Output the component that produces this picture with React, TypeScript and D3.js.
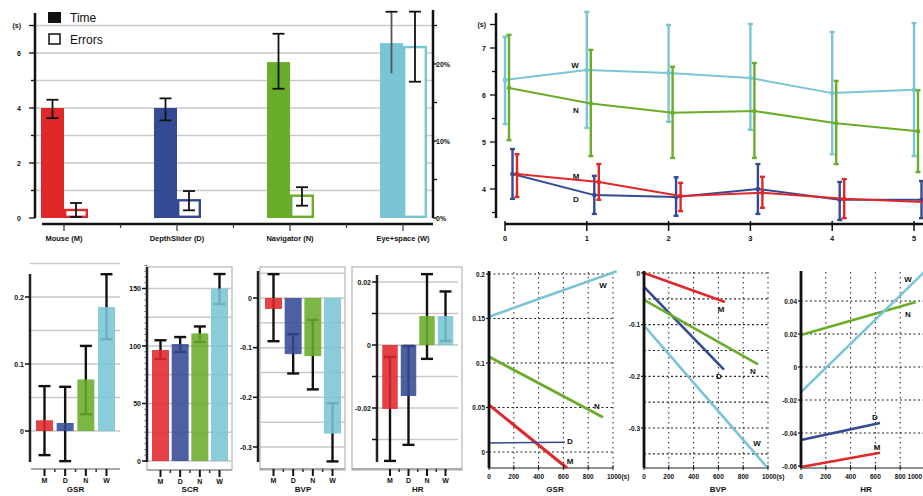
import React from "react";
import * as d3 from "d3";

// ---------- DATA ----------
const timeCats = ["Mouse (M)", "DepthSlider (D)", "Navigator (N)", "Eye+space (W)"];
const timeMean = [4.0, 4.0, 5.67, 6.36];
const timeLo = [3.63, 3.55, 4.7, 5.26];
const timeHi = [4.3, 4.35, 6.7, 7.5];
const errMean = [0.0104, 0.023, 0.029, 0.222];
const errLo = [0.0013, 0.01, 0.016, 0.177];
const errHi = [0.0195, 0.035, 0.04, 0.268];

const trials = [0, 1, 2, 3, 4, 5];
const trialW = [6.32, 6.53, 6.47, 6.36, 6.04, 6.11];
const trialWLo = [5.38, 5.3, 5.43, 5.26, 4.74, 4.7];
const trialWHi = [7.24, 7.77, 7.49, 7.51, 7.34, 7.53];
const trialN = [6.15, 5.82, 5.62, 5.66, 5.4, 5.23];
const trialNLo = [5.04, 4.7, 4.66, 4.66, 4.53, 4.36];
const trialNHi = [7.28, 6.96, 6.6, 6.68, 6.3, 6.1];
const trialM = [4.32, 4.15, 3.85, 3.92, 3.79, 3.72];
const trialMLo = [3.83, 3.77, 3.53, 3.6, 3.38, 3.4];
const trialMHi = [4.74, 4.53, 4.13, 4.26, 4.21, 4.2];
const trialD = [4.32, 3.87, 3.83, 4.0, 3.77, 3.77];
const trialDLo = [3.79, 3.47, 3.43, 3.47, 3.34, 3.38];
const trialDHi = [4.85, 4.28, 4.25, 4.53, 4.15, 4.17];

const cats = ["M", "D", "N", "W"];
const gsrMean = [0.016, 0.012, 0.077, 0.185];
const gsrLo = [-0.036, -0.045, 0.025, 0.137];
const gsrHi = [0.067, 0.066, 0.127, 0.234];
const scrMean = [96.5, 101.7, 111, 150];
const scrLo = [88.7, 94.8, 103.5, 136.5];
const scrHi = [105, 107.8, 117, 162.6];
const bvpMean = [-0.022, -0.113, -0.117, -0.273];
const bvpLo = [-0.087, -0.152, -0.184, -0.329];
const bvpHi = [0.048, -0.073, -0.044, -0.212];
const hrMean = [-0.0203, -0.0162, 0.0092, 0.0092];
const hrLo = [-0.0368, -0.0317, -0.0044, 0.0013];
const hrHi = [-0.0038, -0.0003, 0.0225, 0.017];

// regression fits over time (s), order M, D, N, W
const gsrFitStart = [0.053, 0.0101, 0.107, 0.152];
const gsrFitEnd = [-0.018, 0.011, 0.039, 0.203];
const gsrFitEndT = [629, 613, 919, 1030];
const bvpFitStart = [0, -0.027, -0.052, -0.102];
const bvpFitEnd = [-0.056, -0.187, -0.177, -0.376];
const bvpFitEndT = [653, 645, 920, 992];
const hrFitStart = [-0.0606, -0.0442, 0.0194, -0.0152];
const hrFitEnd = [-0.052, -0.034, 0.0394, 0.058];
const hrFitEndT = [637, 637, 927, 1000];

const timeTickLabels = ["0", "200", "400", "600", "800", "1000(s)"];

// ---------- STYLE ----------
const FONT = "'Liberation Sans', Arial, sans-serif";
const COLORS = ["#e0282b", "#344a94", "#6aad2b", "#7ac5d5"];
const GRID = "#c9c9c9";

function TopLeft() {
  const y = d3.scaleLinear().domain([0, 7]).range([218, 25.5]);
  const yE = d3.scaleLinear().domain([0, 0.25]).range([218, 25.5]);
  const x = d3.scalePoint().domain(timeCats).range([64, 403]);
  const yLabels: Record<number, string> = { 0: "0", 2: "2", 4: "4", 6: "6", 7: "(s)" };
  const pct: Record<number, string> = { 0: "0%", 0.1: "10%", 0.2: "20%" };
  const step = x.step();
  return (
    <g fontFamily={FONT}>
      {d3.range(1, 8).map((v) => (
        <line key={v} x1={32} x2={433} y1={y(v)} y2={y(v)} stroke={GRID} strokeWidth={1.5} />
      ))}
      {timeCats.map((c, i) => {
        const cx = x(c)!;
        return (
          <g key={c}>
            <rect x={cx - 23} y={y(timeMean[i])} width={23} height={y(0) - y(timeMean[i])} fill={COLORS[i]} />
            <rect x={cx + 1.2} y={yE(errMean[i])} width={21.6} height={yE(0) - yE(errMean[i]) - 1.2} fill="#fff" stroke={COLORS[i]} strokeWidth={2.4} />
          </g>
        );
      })}
      {timeCats.map((c, i) => {
        const cx = x(c)!;
        const tx = cx - 11.5;
        const ex = cx + 12;
        const tcol = i === 3 ? "#555" : "#111";
        return (
          <g key={c} stroke="#111">
            <line x1={tx} x2={tx} y1={y(timeHi[i])} y2={y(timeLo[i])} strokeWidth={1.8} stroke={tcol} />
            <line x1={tx - 6} x2={tx + 6} y1={y(timeHi[i])} y2={y(timeHi[i])} strokeWidth={1.8} />
            {i < 3 && <line x1={tx - 6} x2={tx + 6} y1={y(timeLo[i])} y2={y(timeLo[i])} strokeWidth={1.8} />}
            <line x1={ex} x2={ex} y1={yE(errHi[i])} y2={yE(errLo[i])} strokeWidth={1.8} />
            <line x1={ex - 6} x2={ex + 6} y1={yE(errHi[i])} y2={yE(errHi[i])} strokeWidth={1.8} />
            <line x1={ex - 6} x2={ex + 6} y1={yE(errLo[i])} y2={yE(errLo[i])} strokeWidth={1.8} />
          </g>
        );
      })}
      {/* left axis */}
      <line x1={35} x2={35} y1={13} y2={218} stroke="#111" strokeWidth={2.5} />
      {d3.range(0, 8).map((v) => (
        <g key={v}>
          <line x1={v % 2 === 0 || v === 7 ? 29 : 31} x2={35} y1={y(v)} y2={y(v)} stroke="#111" strokeWidth={1.3} />
          {yLabels[v] !== undefined && (
            <text x={21} y={y(v) + 2.5} fontSize={7} fontWeight="bold" textAnchor="end" fill="#111">
              {yLabels[v]}
            </text>
          )}
        </g>
      ))}
      {/* right axis */}
      <line x1={433} x2={433} y1={10} y2={218} stroke="#111" strokeWidth={2.5} />
      {d3.range(0, 0.26, 0.05).map((v) => {
        const k = Math.round(v * 100) / 100;
        return (
          <g key={k}>
            <line x1={433} x2={437} y1={yE(k)} y2={yE(k)} stroke="#111" strokeWidth={1.3} />
            {pct[k] && (
              <text x={436} y={yE(k) + 2.5} fontSize={7} fontWeight="bold" fill="#111">
                {pct[k]}
              </text>
            )}
          </g>
        );
      })}
      {/* x axis */}
      <line x1={42} x2={433} y1={224} y2={224} stroke="#111" strokeWidth={2.5} />
      {timeCats.map((c, i) => (
        <g key={c}>
          <line x1={x(c)!} x2={x(c)!} y1={224} y2={231} stroke="#333" strokeWidth={1.2} />
          {i < 3 && <line x1={x(c)! + step / 2} x2={x(c)! + step / 2} y1={224} y2={228} stroke="#333" strokeWidth={1.2} />}
          <text x={x(c)!} y={241} fontSize={7.5} fontWeight="bold" textAnchor="middle" fill="#111">
            {c}
          </text>
        </g>
      ))}
      {/* legend */}
      <rect x={48} y={12} width={13} height={11} fill="#111" />
      <text x={70} y={21.5} fontSize={12} fill="#111">Time</text>
      <rect x={49} y={34} width={11} height={10} fill="#fff" stroke="#111" strokeWidth={1.5} />
      <text x={70} y={43.5} fontSize={12} fill="#111">Errors</text>
    </g>
  );
}

function TopRight() {
  const y = d3.scaleLinear().domain([4, 7]).range([189, 48]);
  const x = d3.scaleLinear().domain([0, 5]).range([505, 914]);
  const series = [
    { name: "W", m: trialW, lo: trialWLo, hi: trialWHi, c: COLORS[3], off: 0 },
    { name: "N", m: trialN, lo: trialNLo, hi: trialNHi, c: COLORS[2], off: 4 },
    { name: "D", m: trialD, lo: trialDLo, hi: trialDHi, c: COLORS[1], off: 7.5 },
    { name: "M", m: trialM, lo: trialMLo, hi: trialMHi, c: COLORS[0], off: 12 },
  ];
  const yLab: Record<string, string> = { "4": "4", "5": "5", "6": "6", "7": "7", "7.5": "(s)" };
  const lbl: Record<string, [number, number]> = { W: [575, 68], N: [576, 113], M: [576, 179], D: [576, 202] };
  return (
    <g fontFamily={FONT}>
      {series.map((s) => {
        const line = d3
          .line<number>()
          .x((_, i) => x(trials[i]) + s.off)
          .y((d) => y(d));
        return (
          <g key={s.name}>
            <path d={line(s.m) || ""} fill="none" stroke={s.c} strokeWidth={2} />
            {s.m.map((v, i) => {
              const px = x(trials[i]) + s.off;
              return (
                <g key={i} stroke={s.c} strokeWidth={2.4}>
                  <line x1={px} x2={px} y1={y(s.hi[i])} y2={y(s.lo[i])} />
                  <line x1={px - 2.5} x2={px + 2.5} y1={y(s.hi[i])} y2={y(s.hi[i])} />
                  <line x1={px - 2.5} x2={px + 2.5} y1={y(s.lo[i])} y2={y(s.lo[i])} />
                  <circle cx={px} cy={y(v)} r={2.3} fill={s.c} stroke="none" />
                </g>
              );
            })}
          </g>
        );
      })}
      {series.map((s) => (
        <text key={s.name} x={lbl[s.name][0]} y={lbl[s.name][1]} fontSize={8} fontWeight="bold" textAnchor="middle" fill="#111">
          {s.name}
        </text>
      ))}
      <line x1={496} x2={496} y1={13} y2={218} stroke="#111" strokeWidth={2.5} />
      {d3.range(3.5, 7.6, 0.5).map((v) => (
        <g key={v}>
          <line x1={yLab[String(v)] ? 490 : 492} x2={496} y1={y(v)} y2={y(v)} stroke="#111" strokeWidth={1.3} />
          {yLab[String(v)] && (
            <text x={486} y={y(v) + 2.5} fontSize={7} fontWeight="bold" textAnchor="end" fill="#111">
              {yLab[String(v)]}
            </text>
          )}
        </g>
      ))}
      <line x1={505} x2={923} y1={224} y2={224} stroke="#111" strokeWidth={2.5} />
      {trials.map((t) => (
        <g key={t}>
          <line x1={x(t)} x2={x(t)} y1={221} y2={231} stroke="#111" strokeWidth={1.5} />
          <text x={x(t)} y={241} fontSize={7.5} fontWeight="bold" textAnchor="middle" fill="#111">
            {t}
          </text>
        </g>
      ))}
    </g>
  );
}

type BarProps = {
  mean: number[];
  lo: number[];
  hi: number[];
  domain: [number, number];
  range: [number, number];
  axisX: number;
  axisY: [number, number];
  centers: [number, number];
  barW: number;
  grid: number[];
  gridX: [number, number];
  ticks: number[];
  tickLabels: string[];
  frame?: [number, number, number, number];
  xAxis: [number, number, number];
  title: string;
  denseTicks?: number[];
};

function BarPanel(p: BarProps) {
  const y = d3.scaleLinear().domain(p.domain).range(p.range);
  const x = d3.scalePoint().domain(cats).range(p.centers);
  const step = x.step();
  const [ax0, ax1, axY] = p.xAxis;
  const mid = (p.centers[0] + p.centers[1]) / 2;
  return (
    <g fontFamily={FONT}>
      {p.frame && (
        <rect x={p.frame[0]} y={p.frame[1]} width={p.frame[2] - p.frame[0]} height={p.frame[3] - p.frame[1]} fill="#fff" stroke="#c4c4c4" strokeWidth={1.5} />
      )}
      {p.grid.map((v, i) => (
        <line key={i} x1={p.gridX[0]} x2={p.gridX[1]} y1={y(v)} y2={y(v)} stroke={GRID} strokeWidth={1.5} />
      ))}
      {cats.map((c, i) => {
        const cx = x(c)!;
        return (
          <g key={c}>
            <g stroke="#111" strokeWidth={2.4}>
              <line x1={cx} x2={cx} y1={y(p.hi[i])} y2={y(p.lo[i])} />
              <line x1={cx - 6} x2={cx + 6} y1={y(p.hi[i])} y2={y(p.hi[i])} />
              <line x1={cx - 6} x2={cx + 6} y1={y(p.lo[i])} y2={y(p.lo[i])} />
            </g>
            <rect
              x={cx - p.barW / 2}
              y={Math.min(y(0), y(p.mean[i]))}
              width={p.barW}
              height={Math.abs(y(p.mean[i]) - y(0))}
              fill={COLORS[i]}
              fillOpacity={0.88}
            />
          </g>
        );
      })}
      <line x1={p.axisX} x2={p.axisX} y1={p.axisY[0]} y2={p.axisY[1]} stroke="#222" strokeWidth={2.5} />
      {p.denseTicks &&
        p.denseTicks.map((v, i) => (
          <line key={i} x1={p.axisX - 2.5} x2={p.axisX} y1={y(v)} y2={y(v)} stroke="#333" strokeWidth={0.8} />
        ))}
      {p.ticks.map((v, i) => (
        <g key={i}>
          <line x1={p.axisX - 5} x2={p.axisX} y1={y(v)} y2={y(v)} stroke="#111" strokeWidth={1.5} />
          {p.tickLabels[i] && (
            <text x={p.axisX - 6} y={y(v) + 2.5} fontSize={7} fontWeight="bold" textAnchor="end" fill="#111">
              {p.tickLabels[i]}
            </text>
          )}
        </g>
      ))}
      <line x1={ax0} x2={ax1} y1={axY} y2={axY} stroke="#aaa" strokeWidth={2} />
      {cats.map((c, i) => (
        <g key={c}>
          <line x1={x(c)!} x2={x(c)!} y1={axY} y2={axY + 7} stroke="#111" strokeWidth={2} />
          {i < 3 && <line x1={x(c)! + step / 2} x2={x(c)! + step / 2} y1={axY} y2={axY + 3} stroke="#333" strokeWidth={1.5} />}
          <text x={x(c)!} y={axY + 14} fontSize={7} fontWeight="bold" textAnchor="middle" fill="#111">
            {c}
          </text>
        </g>
      ))}
      <text x={mid} y={492} fontSize={8} fontWeight="bold" textAnchor="middle" fill="#111">
        {p.title}
      </text>
    </g>
  );
}

type LineProps = {
  x0: number;
  yDomain: [number, number];
  yRange: [number, number];
  hGrid: number[];
  yTicks: number[];
  yTickLabels: string[];
  start: number[];
  end: number[];
  endT: number[];
  widths: number[];
  labels: [number, number][];
  title: string;
  titleX: number;
  xLabels: string[];
};

function LinePanel(p: LineProps) {
  const y = d3.scaleLinear().domain(p.yDomain).range(p.yRange);
  const x = d3.scaleLinear().domain([0, 1000]).range([p.x0, p.x0 + 124]);
  const xt = [0, 200, 400, 600, 800, 1000];
  const line = d3
    .line<[number, number]>()
    .x((d) => x(d[0]))
    .y((d) => y(d[1]));
  return (
    <g fontFamily={FONT}>
      {p.hGrid.map((v, i) => (
        <line key={i} x1={p.x0} x2={x(1000)} y1={y(v)} y2={y(v)} stroke="#222" strokeWidth={1.2} strokeDasharray="2,2.5" />
      ))}
      {xt.slice(1).map((t) => (
        <line key={t} x1={x(t)} x2={x(t)} y1={272} y2={468} stroke="#222" strokeWidth={1} strokeDasharray="1.5,3.5" />
      ))}
      <line x1={p.x0} x2={x(1000)} y1={468} y2={468} stroke="#222" strokeWidth={1.2} />
      {cats.map((c, i) => (
        <path
          key={c}
          d={line([[0, p.start[i]], [p.endT[i], p.end[i]]]) || ""}
          stroke={COLORS[i]}
          strokeWidth={p.widths[i]}
          fill="none"
        />
      ))}
      {cats.map((c, i) => (
        <text key={c} x={p.labels[i][0]} y={p.labels[i][1]} fontSize={8} fontWeight="bold" textAnchor="middle" fill="#111">
          {c}
        </text>
      ))}
      <line x1={p.x0} x2={p.x0} y1={271} y2={468} stroke="#111" strokeWidth={2.8} />
      {p.yTicks.map((v, i) => (
        <g key={i}>
          <line x1={p.x0 - 3} x2={p.x0} y1={y(v)} y2={y(v)} stroke="#111" strokeWidth={1.2} />
          <text x={p.x0 - 4} y={y(v) + 2.5} fontSize={6.5} fontWeight="bold" textAnchor="end" fill="#111">
            {p.yTickLabels[i]}
          </text>
        </g>
      ))}
      {xt.map((t, i) => {
        const last = i === 5;
        const overflow = last && x(t) + 20 > 923;
        return (
          <g key={t}>
            <line x1={x(t)} x2={x(t)} y1={465} y2={470} stroke="#111" strokeWidth={1} />
            <text
              x={overflow ? 922 : x(t)}
              y={479}
              fontSize={6.5}
              fontWeight="bold"
              textAnchor={overflow ? "end" : last ? "start" : "middle"}
              dx={last && !overflow ? -6 : 0}
              fill="#111"
            >
              {p.xLabels[i]}
            </text>
          </g>
        );
      })}
      <text x={p.titleX} y={492} fontSize={8} fontWeight="bold" textAnchor="middle" fill="#111">
        {p.title}
      </text>
    </g>
  );
}

export default function App() {
  return (
    <svg width={923} height={496} style={{ position: "absolute", left: 0, top: 0, background: "#fff" }}>
      <TopLeft />
      <TopRight />
      <BarPanel
        mean={gsrMean} lo={gsrLo} hi={gsrHi}
        domain={[0, 0.2]} range={[431, 297]}
        axisX={30} axisY={[274, 462]} centers={[44.5, 106.5]} barW={17}
        grid={[0, 0.05, 0.1, 0.15, 0.2, 0.25]} gridX={[30, 120]}
        ticks={[0, 0.1, 0.2]} tickLabels={["0", "0.1", "0.2"]}
        xAxis={[31, 120, 469]} title="GSR"
      />
      <BarPanel
        mean={scrMean} lo={scrLo} hi={scrHi}
        domain={[0, 150]} range={[461, 288.5]}
        axisX={147} axisY={[267, 462]} centers={[160.5, 219.5]} barW={17}
        grid={[0, 25, 50, 75, 100, 125, 150]} gridX={[147, 232]}
        ticks={[0, 50, 100, 150]} tickLabels={["0", "50", "100", "150"]}
        frame={[147, 267, 232, 470]} xAxis={[147, 232, 470]} title="SCR"
        denseTicks={d3.range(0, 171, 5)}
      />
      <BarPanel
        mean={bvpMean} lo={bvpLo} hi={bvpHi}
        domain={[0, -0.3]} range={[298, 447]}
        axisX={258} axisY={[271, 462]} centers={[273.5, 332.5]} barW={17}
        grid={[0.05, 0, -0.05, -0.1, -0.15, -0.2, -0.25, -0.3]} gridX={[258, 345]}
        ticks={[0, -0.1, -0.2, -0.3]} tickLabels={["0", "-0.1", "-0.2", "-0.3"]}
        frame={[260, 267, 345, 470]} xAxis={[260, 345, 469]} title="BVP"
      />
      <BarPanel
        mean={hrMean} lo={hrLo} hi={hrHi}
        domain={[0.02, -0.02]} range={[282, 408]}
        axisX={377} axisY={[275, 462]} centers={[390, 445.5]} barW={15.5}
        grid={[0.02, 0.01, 0, -0.01, -0.02, -0.03]} gridX={[377, 458]}
        ticks={[0.02, 0.01, 0, -0.01, -0.02, -0.03]} tickLabels={["0.02", "", "0", "", "-0.02", ""]}
        frame={[352, 267, 462, 470]} xAxis={[352, 462, 469]} title="HR"
      />
      <LinePanel
        x0={489} yDomain={[0, 0.2]} yRange={[452, 274]}
        hGrid={[0, 0.05, 0.1, 0.15, 0.2]}
        yTicks={[0, 0.05, 0.1, 0.15, 0.2]} yTickLabels={["0", "0.05", "0.1", "0.15", "0.2"]}
        start={gsrFitStart} end={gsrFitEnd} endT={gsrFitEndT}
        widths={[3, 1.6, 3, 2.6]}
        labels={[[570, 464], [570, 444], [597, 409], [603, 288]]}
        title="GSR" titleX={555} xLabels={timeTickLabels}
      />
      <LinePanel
        x0={644} yDomain={[0, -0.3]} yRange={[273, 428]}
        hGrid={[0, -0.05, -0.1, -0.15, -0.2, -0.25, -0.3, -0.35]}
        yTicks={[0, -0.1, -0.2, -0.3]} yTickLabels={["0", "-0.1", "-0.2", "-0.3"]}
        start={bvpFitStart} end={bvpFitEnd} endT={bvpFitEndT}
        widths={[2.6, 2.6, 2.6, 2.6]}
        labels={[[721, 312], [719, 379], [753, 374], [757, 446]]}
        title="BVP" titleX={718} xLabels={timeTickLabels}
      />
      <LinePanel
        x0={801} yDomain={[0, 0.04]} yRange={[367, 301]}
        hGrid={[0.04, 0.02, 0, -0.02, -0.04]}
        yTicks={[0.04, 0.02, 0, -0.02, -0.04, -0.06]} yTickLabels={["0.04", "0.02", "0", "-0.02", "-0.04", "-0.06"]}
        start={hrFitStart} end={hrFitEnd} endT={hrFitEndT}
        widths={[2.6, 2.6, 2.6, 2.6]}
        labels={[[877, 450], [875, 420], [908, 317], [908, 282]]}
        title="HR" titleX={866} xLabels={["0", "200", "400", "600", "800", "1000"]}
      />
    </svg>
  );
}
